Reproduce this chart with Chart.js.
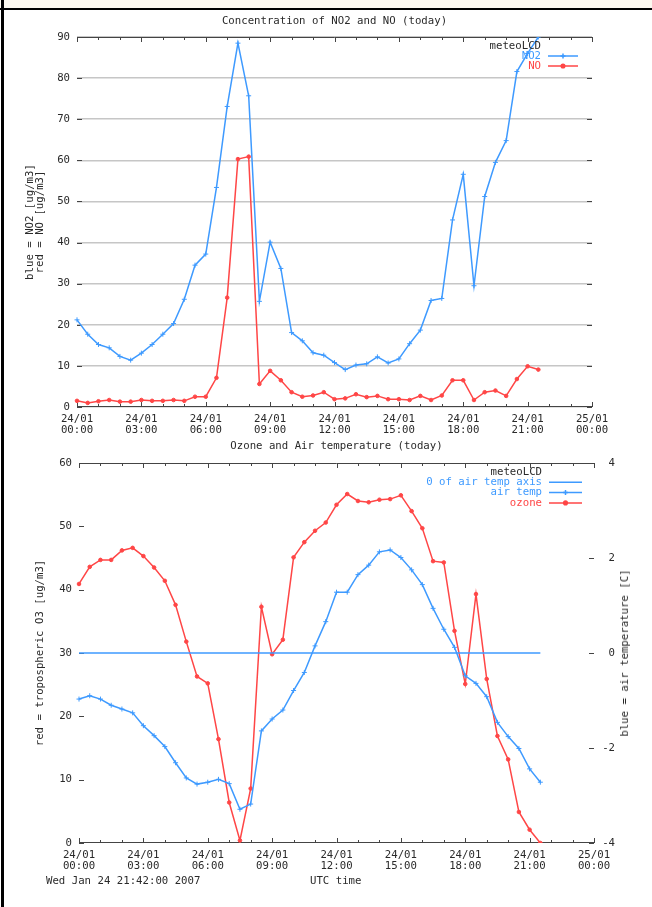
<!DOCTYPE html>
<html>
<head>
<meta charset="utf-8">
<script src="https://cdn.jsdelivr.net/npm/chart.js@4"></script>
<style>
  body { margin: 0; background: #fff; width: 652px; height: 907px; position: relative; overflow: hidden; }
  .abs { position: absolute; }
  .txt { font: 10.7px "DejaVu Sans Mono", monospace; line-height: 12px; color: #2a2a2a; white-space: nowrap; }
  .ctr { transform: translate(-50%, -50%); }
  canvas { position: absolute; left: 0; }
</style>
</head>
<body>
<div class="abs" style="left:0;top:0;width:652px;height:8px;background:#fcf8f0"></div>
<div class="abs" style="left:0;top:8px;width:652px;height:2px;background:#000"></div>
<div class="abs" style="left:1px;top:0;width:3px;height:907px;background:#000"></div>

<canvas id="chartNox" width="652" height="440" style="top:0"></canvas>
<canvas id="chartOzone" width="652" height="467" style="top:440px"></canvas>

<div class="abs txt ctr" style="left:334.5px;top:21px">Concentration of NO2 and NO (today)</div>
<div class="abs txt ctr" style="left:336.5px;top:446px">Ozone and Air temperature (today)</div>
<div class="abs txt" style="left:625px;top:653px;transform:translate(-50%,-50%) rotate(-90deg)">blue = air temperature [C]</div>
<div class="abs txt" style="left:46px;top:875px">Wed Jan 24 21:42:00 2007</div>
<div class="abs txt" style="left:310px;top:875px">UTC time</div>

<script>
// *** data for display ***
const TIMES = [
    "00:00", "00:30", "01:00", "01:30", "02:00", "02:30", "03:00", "03:30",
    "04:00", "04:30", "05:00", "05:30", "06:00", "06:30", "07:00", "07:30",
    "08:00", "08:30", "09:00", "09:30", "10:00", "10:30", "11:00", "11:30",
    "12:00", "12:30", "13:00", "13:30", "14:00", "14:30", "15:00", "15:30",
    "16:00", "16:30", "17:00", "17:30", "18:00", "18:30", "19:00", "19:30",
    "20:00", "20:30", "21:00", "21:30", "22:00", "22:30", "23:00", "23:30", "24:00"
];
const X_TICK_LABELS = [
    ["24/01", "00:00"], ["24/01", "03:00"], ["24/01", "06:00"], ["24/01", "09:00"],
    ["24/01", "12:00"], ["24/01", "15:00"], ["24/01", "18:00"], ["24/01", "21:00"],
    ["25/01", "00:00"]
];

// ug/m3, every 30 min from 00:00 to 21:30
const NO2 = [21.2, 17.7, 15.2, 14.4, 12.3, 11.4, 13.1, 15.2, 17.7, 20.3, 26.2, 34.5,
    37.2, 53.4, 73.1, 88.5, 75.7, 25.7, 40.1, 33.7, 18.1, 16.1, 13.2, 12.6,
    10.8, 9.1, 10.2, 10.5, 12.2, 10.7, 11.7, 15.4, 18.7, 25.9, 26.4, 45.5,
    56.6, 29.5, 51.2, 59.5, 64.8, 81.6, 86.0, 90.0];
const NO = [1.5, 1.0, 1.4, 1.7, 1.3, 1.3, 1.7, 1.5, 1.5, 1.7, 1.5, 2.5,
    2.5, 7.1, 26.6, 60.3, 60.9, 5.6, 8.8, 6.5, 3.6, 2.5, 2.8, 3.6,
    1.9, 2.1, 3.1, 2.4, 2.7, 1.9, 1.9, 1.7, 2.7, 1.7, 2.8, 6.5,
    6.5, 1.7, 3.6, 4.0, 2.7, 6.8, 9.9, 9.1];
const OZONE = [40.9, 43.6, 44.7, 44.7, 46.2, 46.6, 45.3, 43.5, 41.4, 37.6, 31.8, 26.3,
    25.2, 16.4, 6.4, 0.4, 8.6, 37.3, 29.8, 32.1, 45.1, 47.5, 49.3, 50.6,
    53.4, 55.1, 54.0, 53.8, 54.2, 54.3, 54.9, 52.4, 49.7, 44.5, 44.3, 33.5,
    25.1, 39.3, 25.9, 16.9, 13.2, 4.9, 2.1, 0.0];
// deg C
const AIR_TEMP = [-0.97, -0.90, -0.97, -1.10, -1.18, -1.26, -1.53, -1.74, -1.97, -2.31, -2.63, -2.76,
    -2.72, -2.66, -2.75, -3.29, -3.18, -1.64, -1.39, -1.20, -0.79, -0.41, 0.15, 0.66,
    1.28, 1.28, 1.65, 1.85, 2.13, 2.17, 2.01, 1.75, 1.44, 0.94, 0.50, 0.12,
    -0.48, -0.64, -0.92, -1.46, -1.76, -2.01, -2.44, -2.72];
const ZERO_LINE = [{x: "00:00", y: 0}, {x: "21:30", y: 0}];

const BLUE = "rgb(62,154,255)";
const RED = "rgb(255,70,70)";
const INK = "#2a2a2a";
const AXIS = "#444";
const FONT_FAMILY = "'DejaVu Sans Mono', monospace";
const FONT = {family: FONT_FAMILY, size: 10.7, lineHeight: "11px"};

// *** gnuplot like border: top/bottom lines, inward ticks ***
const frame = {
    id: 'frame',
    beforeDatasetsDraw(chart, args, opts) {
        const {ctx, chartArea: a, scales} = chart;
        ctx.save();
        ctx.strokeStyle = AXIS;
        ctx.lineWidth = 1;
        ctx.beginPath();
        ctx.moveTo(a.left, a.top + 0.5); ctx.lineTo(a.right, a.top + 0.5);
        ctx.moveTo(a.left, a.bottom - 0.5); ctx.lineTo(a.right, a.bottom - 0.5);
        const x = scales.x;
        for (let i = 0; i < TIMES.length; i += 2) {
            const px = Math.round(x.getPixelForValue(i)) + 0.5;
            const len = i % 6 === 0 ? 5 : 3;
            ctx.moveTo(px, a.top); ctx.lineTo(px, a.top + len);
            ctx.moveTo(px, a.bottom); ctx.lineTo(px, a.bottom - len);
        }
        opts.yTicks.forEach(function (t) {
            const s = scales[t.id];
            s.ticks.forEach(function (tk) {
                const py = Math.round(s.getPixelForValue(tk.value)) + 0.5;
                if (t.left) { ctx.moveTo(a.left, py); ctx.lineTo(a.left + 5, py); }
                if (t.right) { ctx.moveTo(a.right, py); ctx.lineTo(a.right - 5, py); }
            });
        });
        ctx.stroke();
        ctx.restore();
    }
};

// *** key box at top right, text right aligned then line sample ***
const key = {
    id: 'key',
    afterDatasetsDraw(chart, args, opts) {
        const ctx = chart.ctx;
        ctx.save();
        ctx.font = "10.7px " + FONT_FAMILY;
        ctx.textAlign = 'right';
        ctx.textBaseline = 'middle';
        let y = opts.top;
        ctx.fillStyle = INK;
        ctx.fillText(opts.title, opts.textRight, y);
        chart.data.datasets.forEach(function (ds) {
            y += opts.step;
            ctx.fillStyle = ds.borderColor;
            ctx.fillText(ds.label, opts.textRight, y);
            ctx.strokeStyle = ds.borderColor;
            ctx.lineWidth = 1.5;
            ctx.beginPath();
            ctx.moveTo(opts.lineFrom, y); ctx.lineTo(opts.lineTo, y);
            ctx.stroke();
            if (ds.pointRadius > 0) {
                Chart.helpers.drawPoint(ctx, {
                    pointStyle: ds.pointStyle, radius: ds.pointRadius, borderWidth: 1
                }, (opts.lineFrom + opts.lineTo) / 2, y);
                ctx.fillStyle = ds.borderColor;
                ctx.fill();
            }
        });
        ctx.restore();
    }
};

function lineSet(label, data, color, style, axis) {
    return {
        label: label,
        data: data,
        borderColor: color,
        backgroundColor: color,
        borderWidth: 1.5,
        pointStyle: style,
        pointRadius: style === 'cross' ? 2.5 : 1.8,
        pointBorderWidth: 1,
        yAxisID: axis,
        tension: 0
    };
}

function xAxis(height) {
    return {
        type: 'category',
        offset: false,
        grid: {display: false, drawTicks: false},
        border: {display: false},
        afterFit: function (s) { s.height = height; },
        ticks: {
            autoSkip: false, maxRotation: 0, minRotation: 0, padding: 7,
            color: INK, font: FONT,
            callback: function (v, i) { return i % 6 === 0 ? X_TICK_LABELS[i / 6] : null; }
        }
    };
}

Chart.defaults.font.family = FONT_FAMILY;

// *** NO2 / NO chart ***
new Chart(document.getElementById('chartNox'), {
    type: 'line',
    data: {
        labels: TIMES,
        datasets: [
            lineSet("NO2", NO2, BLUE, 'cross', 'y'),
            lineSet("NO", NO, RED, 'circle', 'y')
        ]
    },
    plugins: [frame, key],
    options: {
        responsive: false,
        animation: false,
        devicePixelRatio: 1,
        layout: {padding: {left: 0, right: 60, top: 37, bottom: 0}},
        plugins: {
            legend: {display: false},
            tooltip: {enabled: false},
            frame: {yTicks: [{id: 'y', left: true, right: true}]},
            key: {title: "meteoLCD", top: 46, step: 10, textRight: 541, lineFrom: 548, lineTo: 578}
        },
        scales: {
            x: xAxis(33),
            y: {
                min: 0, max: 90,
                afterFit: function (s) { s.width = 77; },
                border: {display: false},
                grid: {color: '#c6c6c6', lineWidth: 1.5, drawTicks: false},
                ticks: {stepSize: 10, padding: 7, color: INK, font: FONT},
                title: {
                    display: true, text: ["blue = NO2 [ug/m3]", "red = NO [ug/m3]"],
                    color: INK, font: {family: FONT_FAMILY, size: 10.7, lineHeight: "10px"},
                    padding: {top: 25, bottom: 0}
                }
            }
        }
    }
});

// *** ozone / air temperature chart ***
new Chart(document.getElementById('chartOzone'), {
    type: 'line',
    data: {
        labels: TIMES,
        datasets: [
            Object.assign(lineSet("0 of air temp axis", ZERO_LINE, BLUE, 'line', 'y1'), {pointRadius: 0}),
            lineSet("air temp", AIR_TEMP, BLUE, 'cross', 'y1'),
            lineSet("ozone", OZONE, RED, 'circle', 'y')
        ]
    },
    plugins: [frame, key],
    options: {
        responsive: false,
        animation: false,
        devicePixelRatio: 1,
        layout: {padding: {left: 0, right: 37, top: 23, bottom: 0}},
        plugins: {
            legend: {display: false},
            tooltip: {enabled: false},
            frame: {yTicks: [{id: 'y', left: true}, {id: 'y1', right: true}]},
            key: {title: "meteoLCD", top: 32, step: 10.3, textRight: 542, lineFrom: 549, lineTo: 582}
        },
        scales: {
            x: xAxis(64),
            y: {
                position: 'left',
                min: 0, max: 60,
                afterFit: function (s) { s.width = 79; },
                border: {display: false},
                grid: {display: false, drawTicks: false},
                ticks: {stepSize: 10, padding: 7, color: INK, font: FONT},
                title: {
                    display: true, text: "red = tropospheric O3 [ug/m3]",
                    color: INK, font: {family: FONT_FAMILY, size: 10.7, lineHeight: "10px"},
                    padding: {top: 35, bottom: 0}
                }
            },
            y1: {
                position: 'right',
                min: -4, max: 4,
                afterFit: function (s) { s.width = 21; },
                border: {display: false},
                grid: {display: false, drawTicks: false},
                ticks: {stepSize: 2, padding: 8, crossAlign: 'far', color: INK, font: FONT}
            }
        }
    }
});
</script>
</body>
</html>
